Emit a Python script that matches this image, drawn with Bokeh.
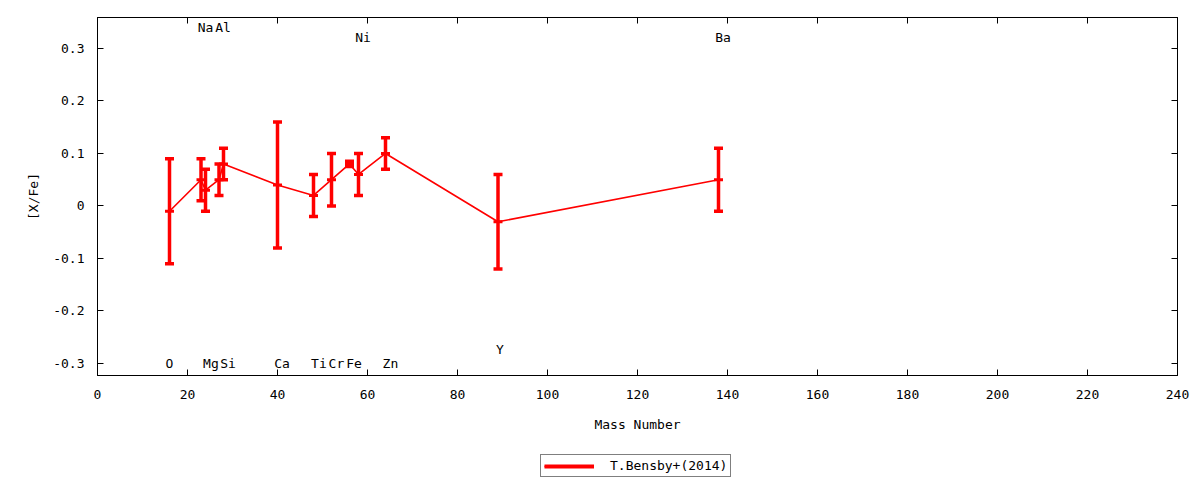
from math import pi

from bokeh.plotting import figure, ColumnDataSource
from bokeh.layouts import column
from bokeh.models import (FixedTicker, CustomJSTickFormatter, LinearAxis,
                          Legend, LegendItem, Range1d)
from bokeh.core.properties import value
from bokeh.embed import file_html
from bokeh.resources import INLINE

# T.Bensby+(2014): [X/Fe] against mass number
mass = [16, 23, 24, 27, 28, 40, 48, 52, 56, 58, 64, 89, 138]
xfe = [-0.01, 0.05, 0.03, 0.05, 0.08, 0.04, 0.02, 0.05, 0.08, 0.06, 0.10, -0.03, 0.05]
err = [0.10, 0.04, 0.04, 0.03, 0.03, 0.12, 0.04, 0.05, 0.005, 0.04, 0.03, 0.09, 0.06]

# element names written on the chart
elements = ["O", "Mg", "Si", "Ca", "Ti", "Cr", "Fe", "Zn", "Y", "Na", "Al", "Ni", "Ba"]
label_x = [16, 25.2, 29, 41, 49.2, 53.1, 57, 65.1, 89.4, 24, 27.9, 59, 139]
label_y = [-0.3, -0.3, -0.3, -0.3, -0.3, -0.3, -0.3, -0.3, -0.273, 0.34, 0.34, 0.32, 0.32]

x_ticks = [0, 20, 40, 60, 80, 100, 120, 140, 160, 180, 200, 220, 240]
y_ticks = [-0.3, -0.2, -0.1, 0, 0.1, 0.2, 0.3]

series_name = "T.Bensby+(2014)"

FONT = "DejaVu Sans Mono"
RED = "#ff0000"


def build_chart():
    lo = [v - e for v, e in zip(xfe, err)]
    hi = [v + e for v, e in zip(xfe, err)]
    src = ColumnDataSource(data=dict(mass=mass, xfe=xfe, lo=lo, hi=hi))
    lab = ColumnDataSource(data=dict(x=label_x, y=label_y, text=elements))

    p = figure(width=1192, height=445, frame_width=1080, frame_height=358,
               output_backend="svg", toolbar_location=None,
               x_range=Range1d(0, 240), y_range=Range1d(-0.3229, 0.359),
               min_border_left=97, min_border_right=15, min_border_top=17,
               min_border_bottom=70)
    p.xgrid.visible = False
    p.ygrid.visible = False
    p.outline_line_color = "black"
    p.outline_line_width = 1
    p.background_fill_color = "white"
    p.border_fill_color = "white"

    p.line(x="mass", y="xfe", source=src, line_color=RED, line_width=1.6)
    p.segment(x0="mass", y0="lo", x1="mass", y1="hi", source=src,
              line_color=RED, line_width=3.5)
    p.scatter(x="mass", y="lo", source=src, marker="dash", size=9,
              line_color=RED, line_width=3.5)
    p.scatter(x="mass", y="hi", source=src, marker="dash", size=9,
              line_color=RED, line_width=3.5)
    p.scatter(x="mass", y="xfe", source=src, marker="dash", size=9,
              line_color=RED, line_width=3)

    p.text(x="x", y="y", text="text", source=lab, text_font=value(FONT),
           text_font_size="13px", text_color="black", text_align="center",
           text_baseline="middle")

    fmt = CustomJSTickFormatter(code="return Number(tick.toFixed(1)).toString();")

    for ax in p.xaxis:
        ax.ticker = FixedTicker(ticks=x_ticks)
        ax.axis_label = "Mass Number"
        ax.axis_label_standoff = 15
        ax.major_label_standoff = 14
    for ax in p.yaxis:
        ax.ticker = FixedTicker(ticks=y_ticks)
        ax.formatter = fmt
        ax.axis_label = "[X/Fe]"
        ax.axis_label_standoff = 9
        ax.major_label_standoff = 13

    top = LinearAxis(ticker=FixedTicker(ticks=x_ticks), major_label_text_font_size="0px",
                     major_label_standoff=0)
    right = LinearAxis(ticker=FixedTicker(ticks=y_ticks), major_label_text_font_size="0px",
                       major_label_standoff=0)
    p.add_layout(top, "above")
    p.add_layout(right, "right")

    for ax in p.axis:
        ax.axis_line_color = "black"
        ax.major_tick_in = 6
        ax.major_tick_out = 0
        ax.minor_tick_in = 0
        ax.minor_tick_out = 0
        ax.major_tick_line_color = "black"
        ax.major_label_text_font = FONT
        ax.major_label_text_color = "black"
        ax.axis_label_text_font = FONT
        ax.axis_label_text_font_size = "13px"
        ax.axis_label_text_font_style = "normal"
        ax.axis_label_text_color = "black"
        if ax is not top and ax is not right:
            ax.major_label_text_font_size = "13px"
    return p


def build_key():
    # strip under the chart that only carries the key
    k = figure(width=1192, height=35, output_backend="svg", toolbar_location=None,
               x_range=Range1d(0, 1), y_range=Range1d(0, 1), min_border=0)
    k.axis.visible = False
    k.xgrid.visible = False
    k.ygrid.visible = False
    k.outline_line_color = None
    k.border_fill_color = "white"

    nan = [float("nan")]
    r_line = k.line(x=nan, y=nan, line_color=RED, line_width=1.6)
    r_bar = k.segment(x0=nan, y0=nan, x1=nan, y1=nan, line_color=RED, line_width=4)
    r_tick = k.scatter(x=nan, y=nan, marker="dash", angle=pi / 2, size=11,
                       line_color=RED, line_width=3)

    legend = Legend(items=[LegendItem(label=series_name,
                                      renderers=[r_line, r_bar, r_tick])],
                    location=(443, 3))
    legend.border_line_color = "black"
    legend.border_line_width = 1
    legend.background_fill_color = "white"
    legend.background_fill_alpha = 1
    legend.label_text_font = FONT
    legend.label_text_font_size = "13px"
    legend.label_text_color = "black"
    legend.glyph_width = 50
    legend.glyph_height = 14
    legend.label_height = 14
    legend.label_standoff = 16
    legend.padding = 3
    legend.margin = 0
    k.add_layout(legend)
    return k


def main():
    page = column(build_chart(), build_key(), spacing=0)
    open("out.html", "w").write(file_html(page, INLINE))


if __name__ == "__main__":
    main()
